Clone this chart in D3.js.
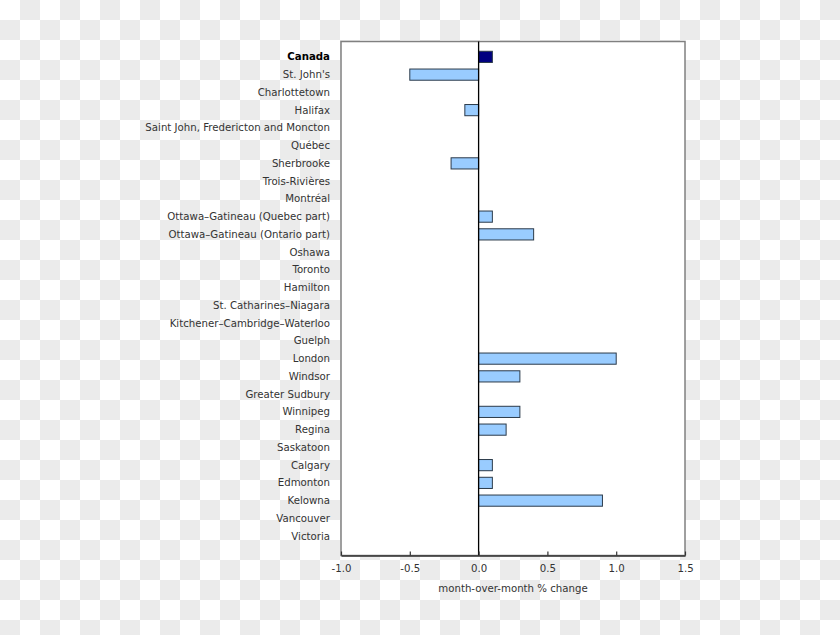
<!DOCTYPE html>
<html><head><meta charset="utf-8">
<script src="https://cdn.jsdelivr.net/npm/d3@7"></script>
<style>html,body{margin:0;padding:0;background:#fff}svg{display:block}</style>
</head><body>
<svg id="c" width="840" height="635"></svg>
<script>
const categories = ["Canada","St. John's","Charlottetown","Halifax","Saint John, Fredericton and Moncton","Québec","Sherbrooke","Trois-Rivières","Montréal","Ottawa–Gatineau (Quebec part)","Ottawa–Gatineau (Ontario part)","Oshawa","Toronto","Hamilton","St. Catharines–Niagara","Kitchener–Cambridge–Waterloo","Guelph","London","Windsor","Greater Sudbury","Winnipeg","Regina","Saskatoon","Calgary","Edmonton","Kelowna","Vancouver","Victoria"];
const values = [0.1,-0.5,0,-0.1,0,0,-0.2,0,0,0.1,0.4,0,0,0,0,0,0,1.0,0.3,0,0.3,0.2,0,0.1,0.1,0.9,0,0];
const xTicks = [-1.0,-0.5,0.0,0.5,1.0,1.5];
const xTickLabels = ["-1.0","-0.5","0.0","0.5","1.0","1.5"];
const xTitle = "month-over-month % change";

(function(){
const svg = d3.select("#c");
const W = 840, H = 635;
const defs = svg.append("defs");
const pat = defs.append("pattern").attr("id","chk").attr("width",40).attr("height",40).attr("patternUnits","userSpaceOnUse");
pat.append("rect").attr("width",40).attr("height",40).attr("fill","#ffffff");
pat.append("rect").attr("x",20).attr("y",0).attr("width",20).attr("height",20).attr("fill","#ebebeb");
pat.append("rect").attr("x",0).attr("y",20).attr("width",20).attr("height",20).attr("fill","#ebebeb");
svg.append("rect").attr("width",W).attr("height",H).attr("fill","url(#chk)");

const pL = 341, pR = 685, pT = 41.5, pB = 555.5;
const x = d3.scaleLinear().domain([-1,1.5]).range([pL,pR]);
const y = d3.scaleBand().domain(categories).range([48,545]).paddingInner(0.37).paddingOuter(0.185);

svg.append("rect").attr("x",pL).attr("y",pT).attr("width",pR-pL).attr("height",pB-pT).attr("fill","#fff");

const font = "Verdana, 'DejaVu Sans', sans-serif";
const fs = 10.2;

svg.append("g").selectAll("rect").data(categories).join("rect")
  .attr("x",(d,i)=>x(Math.min(0,values[i])))
  .attr("y",d=>y(d))
  .attr("width",(d,i)=>Math.abs(x(values[i])-x(0)))
  .attr("height",y.bandwidth())
  .attr("fill",(d,i)=>i===0?"#000080":"#99ccff")
  .attr("stroke",(d,i)=>values[i]===0?"none":"#2b3a4a")
  .attr("stroke-width",1);

svg.append("rect").attr("x",pL).attr("y",pT).attr("width",pR-pL).attr("height",pB-pT)
  .attr("fill","none").attr("stroke","#808080").attr("stroke-width",1.5);
svg.append("line").attr("x1",x(0)).attr("x2",x(0)).attr("y1",pT).attr("y2",pB).attr("stroke","#000").attr("stroke-width",1.3);

const ax = svg.append("g").attr("transform",`translate(0,${pB})`)
  .call(d3.axisBottom(x).tickValues(xTicks).tickFormat((d,i)=>xTickLabels[i]).tickSizeInner(-4).tickSizeOuter(0).tickPadding(9));
ax.select(".domain").attr("stroke","#333").attr("stroke-width",1.5);
ax.selectAll(".tick line").attr("stroke","#333").attr("stroke-width",1.2);
ax.selectAll(".tick text").attr("font-family",font).attr("font-size",fs).attr("fill","#333");

svg.append("text").attr("x",x(0.25)).attr("y",592).attr("text-anchor","middle")
  .attr("font-family",font).attr("font-size",fs).attr("fill","#333").text(xTitle);

svg.append("g").selectAll("text").data(categories).join("text")
  .attr("x",330).attr("y",d=>y(d)+y.bandwidth()/2).attr("dy","0.35em")
  .attr("text-anchor","end").attr("font-family",font).attr("font-size",fs)
  .attr("font-weight",(d,i)=>i===0?"bold":"normal")
  .attr("fill",(d,i)=>i===0?"#000":"#333").text(d=>d);
})();
</script>
</body></html>
